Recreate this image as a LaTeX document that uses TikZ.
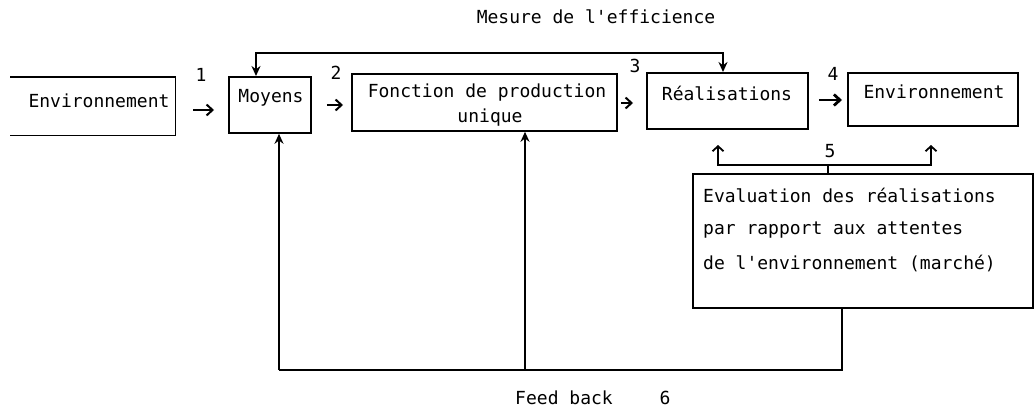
\documentclass[tikz,border=0pt]{standalone}
\usepackage{fontspec}
\setmonofont{DejaVu Sans Mono}
\usetikzlibrary{arrows.meta,calc}
\tikzset{
  box/.style={draw, line width=1.8pt, inner sep=0pt, anchor=north west},
  txt/.style={font=\ttfamily\fontsize{18}{22}\selectfont, inner sep=0pt},
  num/.style={font=\ttfamily\fontsize{18}{22}\selectfont, inner sep=0pt},
  wire/.style={line width=1.8pt},
  fbarrow/.style={wire, -{Stealth[length=10pt,width=9pt]}},
  barb/.style={wire, -{Straight Barb[length=5pt,width=11pt]}},
  inarrow/.style={line width=2pt, -{Straight Barb[length=6pt,width=11pt]}},
}
\begin{document}
\begin{tikzpicture}[x=1pt,y=-1pt]
\useasboundingbox (0,0) rectangle (1035,412);
% boxes
\node[inner sep=0pt, anchor=north west, minimum width=165pt, minimum height=58pt] (env1) at (10,77) {};
\draw[wire] (env1.north west) -- (env1.north east) -- (env1.south east) -- (env1.south west);
\node[txt] (env1t) at (99,101) {Environnement};
\node[box, minimum width=82pt, minimum height=56pt] (moy) at (228,76) {};
\node[txt] (moyt) at (271,98) {Moyens};
\node[box, minimum width=265pt, minimum height=57pt] (fon) at (351,73) {};
\node[txt] (font1) at (487,93) {Fonction de production};
\node[txt] (font2) at (490,118) {unique};
\node[box, minimum width=161pt, minimum height=56pt] (rea) at (646,72) {};
\node[txt] (reat) at (727,93) {Réalisations};
\node[box, minimum width=170pt, minimum height=53pt] (env2) at (847,72) {};
\node[txt] (env2t) at (934,92) {Environnement};
\node[box, minimum width=340pt, minimum height=134pt] (eva) at (692,173) {};
\node[txt, anchor=west] (eva1) at (703,195) {Evaluation des réalisations};
\node[txt, anchor=west] (eva2) at (703,230) {par rapport aux attentes};
\node[txt, anchor=west] (eva3) at (703,263) {de l'environnement (marché)};
% labels
\node[txt] (mes) at (596,17) {Mesure de l'efficience};
\node[num] (n1) at (201,75) {1};
\node[num] (n2) at (336,73) {2};
\node[num] (n3) at (635,66) {3};
\node[num] (n4) at (833,74) {4};
\node[num] (n5) at (830,151) {5};
\node[txt] (fb) at (564,398) {Feed back};
\node[num] (n6) at (665,398) {6};
% short forward arrows
\draw[inarrow] ($(env1.east |- 0,110)+(18,0)$) -- ($(moy.west |- 0,110)+(-14,0)$);
\draw[inarrow] ($(moy.east |- 0,105)+(15,0)$) -- ($(fon.west |- 0,105)+(-8,0)$);
\draw[inarrow] ($(fon.east |- 0,103)+(3,0)$) -- ($(rea.west |- 0,103)+(-13,0)$);
\draw[line width=2.8pt, -{Straight Barb[length=6pt,width=11pt]}] ($(rea.east |- 0,100)+(10,0)$) -- ($(env2.west |- 0,100)+(-5,0)$);
% efficiency measure loop
\coordinate (mL) at (256,53);
\coordinate (mR) at (723,53);
\draw[wire, {Stealth[length=10pt,width=9pt]}-{Stealth[length=10pt,width=9pt]}] (moy.north -| mL) -- (mL) -- (mR) -- (rea.north -| mR);
% evaluation bracket 5
\coordinate (b0) at (eva.north -| 828,0);
\coordinate (bj) at (828,165);
\coordinate (bL) at (718,165);
\coordinate (bR) at (931,165);
\coordinate (tL) at (718,145);
\coordinate (tR) at (931,145);
\draw[wire] (b0) -- (bj);
\draw[barb] (bj) -- (bL) -- (tL);
\draw[barb] (bj) -- (bR) -- (tR);
% feedback
\coordinate (fR) at (842,370);
\coordinate (fM) at (525,370);
\coordinate (fL) at (279,370);
\draw[wire] (eva.south -| fR) -- (fR) -- (fL);
\draw[fbarrow] (fL) -- (moy.south -| fL);
\draw[fbarrow] (fM) -- (fon.south -| fM);
\end{tikzpicture}
\end{document}
